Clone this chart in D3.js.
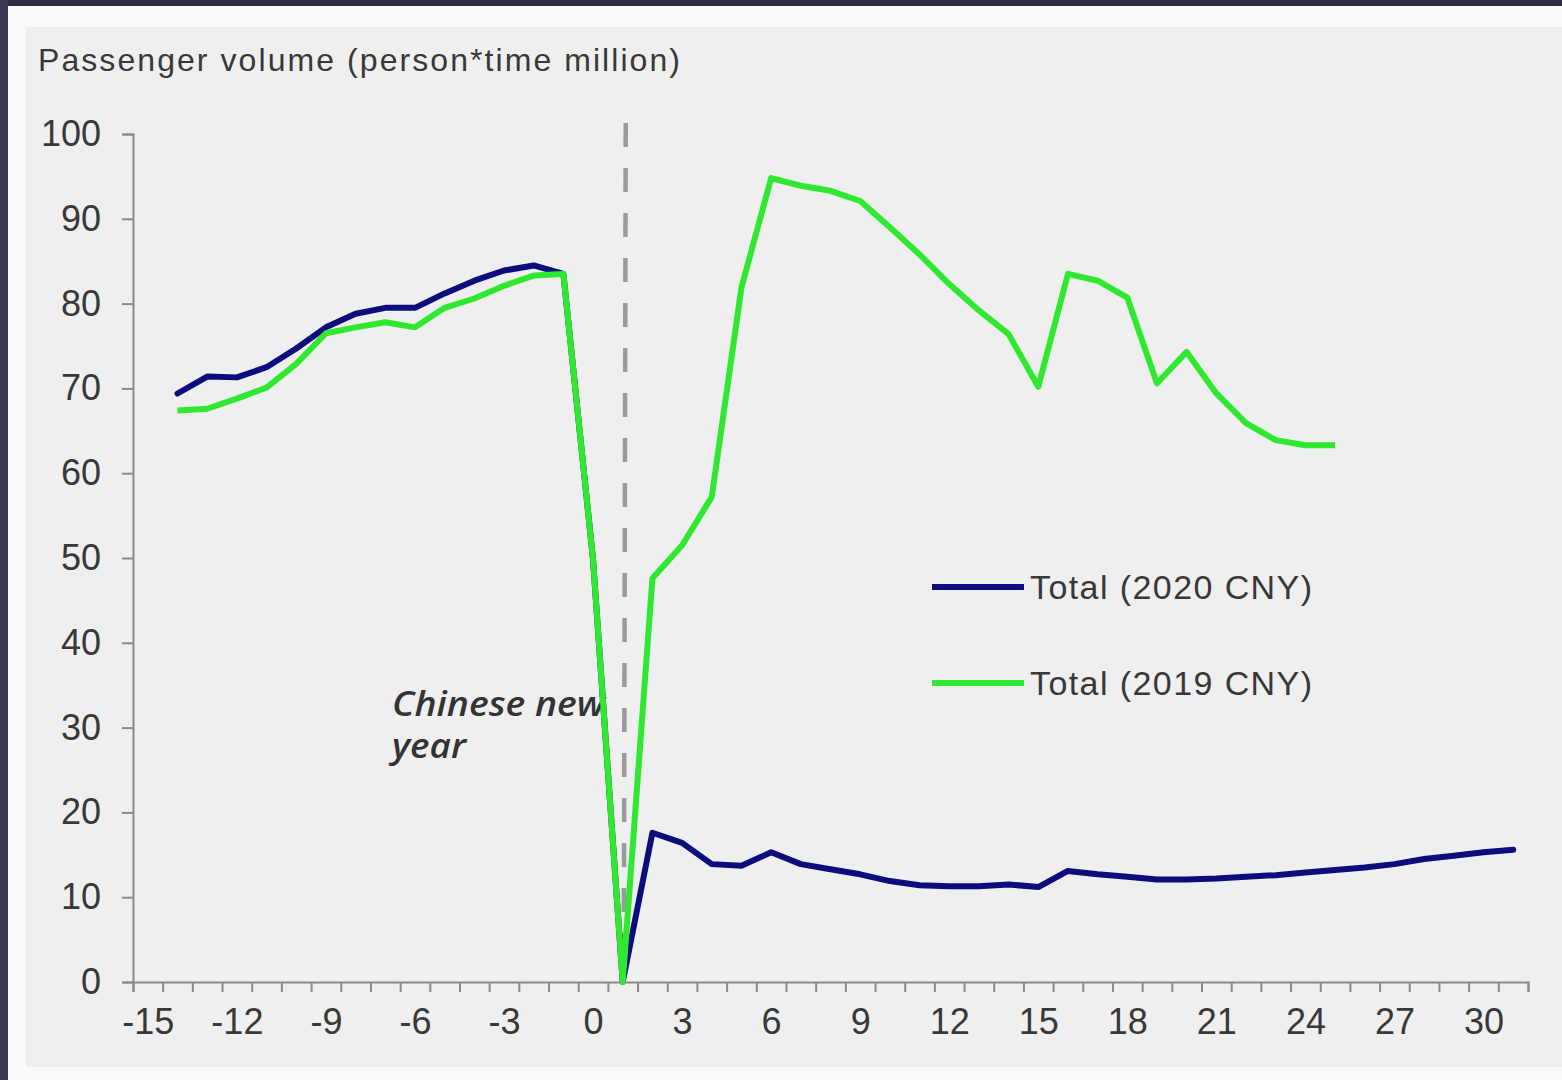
<!DOCTYPE html>
<html>
<head>
<meta charset="utf-8">
<script src="https://cdn.jsdelivr.net/npm/d3@7"></script>
<style>
  html, body { margin: 0; padding: 0; background: #efefef; }
  svg { display: block; }
</style>
</head>
<body>
<svg id="chart"></svg>
<script>
var W = 1562, H = 1080;

// days relative to Chinese new year
var days2020 = d3.range(-14, 32);
var total2020 = [69.4, 71.4, 71.3, 72.5, 74.7, 77.2, 78.8, 79.5, 79.5, 81.2, 82.7, 83.9, 84.5, 83.5,
  49.8, 0, 17.6, 16.4, 13.9, 13.7, 15.3, 13.9, 13.3, 12.7, 11.9, 11.4, 11.3, 11.3, 11.5, 11.2,
  13.1, 12.7, 12.4, 12.1, 12.1, 12.2, 12.4, 12.6, 12.9, 13.2, 13.5, 13.9, 14.5, 14.9, 15.3, 15.6];
var days2019 = d3.range(-14, 26);
var total2019 = [67.4, 67.6, 68.8, 70.1, 72.9, 76.5, 77.2, 77.8, 77.2, 79.5, 80.6, 82.1, 83.3, 83.5,
  49.8, 0, 47.6, 51.5, 57.2, 81.9, 94.8, 93.9, 93.3, 92.1, 89.0, 85.8, 82.3, 79.2, 76.4, 70.2,
  83.5, 82.7, 80.7, 70.6, 74.3, 69.4, 65.9, 63.9, 63.3, 63.3];
var xLabels = d3.range(-15, 31, 3);
var yTicks = d3.range(0, 101, 10);
var cnyDay = 1;

var svg = d3.select("#chart").attr("width", W).attr("height", H);

// frame
svg.append("rect").attr("width", W).attr("height", H).attr("fill", "#efefef");
svg.append("rect").attr("x", 8).attr("y", 6).attr("width", W).attr("height", 21).attr("fill", "#f9f9f9");
svg.append("rect").attr("x", 8).attr("y", 6).attr("width", 18).attr("height", H).attr("fill", "#f9f9f9");
svg.append("rect").attr("x", 8).attr("y", 1067).attr("width", W).attr("height", 13).attr("fill", "#fafafa");
svg.append("rect").attr("width", W).attr("height", 6).attr("fill", "#2e2b44");
svg.append("rect").attr("width", 8).attr("height", H).attr("fill", "#3c3a52");

var x = d3.scaleLinear().domain([-15.5, 31.5]).range([133, 1528]);
var y = d3.scaleLinear().domain([0, 100]).range([982, 134]);

var axisColor = "#8a8a8a";
var textColor = "#383838";
var fontFam = "Liberation Sans, Arial, sans-serif";

// y axis
var gy = svg.append("g").attr("transform", "translate(133,0)")
  .call(d3.axisLeft(y).tickValues(yTicks).tickSize(11).tickPadding(21));
gy.select(".domain").attr("stroke", axisColor).attr("stroke-width", 2);
gy.selectAll(".tick line").attr("stroke", axisColor).attr("stroke-width", 2);
gy.selectAll(".tick text").attr("fill", textColor)
  .style("font-family", fontFam).style("font-size", "36px");

// x axis: ticks between categories, labels on categories
var gx = svg.append("g").attr("transform", "translate(0,982)")
  .call(d3.axisBottom(x).tickValues(d3.range(-15.5, 32, 1)).tickSize(10).tickFormat(""));
gx.select(".domain").attr("stroke", axisColor).attr("stroke-width", 2);
gx.selectAll(".tick line").attr("stroke", axisColor).attr("stroke-width", 2);

var gxl = svg.append("g").attr("transform", "translate(0,982)")
  .call(d3.axisBottom(x).tickValues(xLabels).tickSize(0).tickPadding(26)
    .tickFormat(function(d) { return String(d); }));
gxl.select(".domain").remove();
gxl.selectAll(".tick text").attr("fill", textColor)
  .style("font-family", fontFam).style("font-size", "36px");

// title
svg.append("text").attr("x", 38).attr("y", 71)
  .attr("fill", textColor)
  .attr("textLength", 642).attr("lengthAdjust", "spacing")
  .style("font-family", fontFam).style("font-size", "32px")
  .text("Passenger volume  (person*time  million)");

// Chinese new year marker
svg.append("line")
  .attr("x1", x(cnyDay) + 3).attr("x2", x(cnyDay) + 1)
  .attr("y1", 123).attr("y2", y(0))
  .attr("stroke", "#9a9a9a").attr("stroke-width", 4.5)
  .attr("stroke-dasharray", "24,21");

var ann = svg.append("text").attr("fill", "#333")
  .style("font-family", "Open Sans, sans-serif").style("font-style", "italic")
  .style("font-weight", "600").style("font-size", "34px");
ann.append("tspan").attr("x", 392).attr("y", 716)
  .attr("textLength", 213).attr("lengthAdjust", "spacingAndGlyphs").text("Chinese new");
ann.append("tspan").attr("x", 392).attr("y", 758)
  .attr("textLength", 74).attr("lengthAdjust", "spacingAndGlyphs").text("year");

var line = d3.line().x(function(d) { return x(d[0]); }).y(function(d) { return y(d[1]); });

svg.append("path")
  .datum(d3.zip(days2020, total2020))
  .attr("d", line)
  .attr("fill", "none").attr("stroke", "#0c0c7c").attr("stroke-width", 6)
  .attr("stroke-linejoin", "round").attr("stroke-linecap", "round");

svg.append("path")
  .datum(d3.zip(days2019, total2019))
  .attr("d", line)
  .attr("fill", "none").attr("stroke", "#2fe82f").attr("stroke-width", 6)
  .attr("stroke-linejoin", "round");

// legend
var legend = [
  { name: "Total (2020 CNY)", color: "#0c0c7c", y: 587 },
  { name: "Total (2019 CNY)", color: "#2fe82f", y: 683 }
];
var lg = svg.append("g").selectAll("g").data(legend).enter().append("g");
lg.append("line").attr("x1", 932).attr("x2", 1024)
  .attr("y1", function(d) { return d.y; }).attr("y2", function(d) { return d.y; })
  .attr("stroke", function(d) { return d.color; }).attr("stroke-width", 6);
lg.append("text").attr("x", 1030).attr("y", function(d) { return d.y + 12; })
  .attr("fill", textColor)
  .attr("textLength", 282).attr("lengthAdjust", "spacing")
  .style("font-family", fontFam).style("font-size", "34px")
  .text(function(d) { return d.name; });
</script>
</body>
</html>
